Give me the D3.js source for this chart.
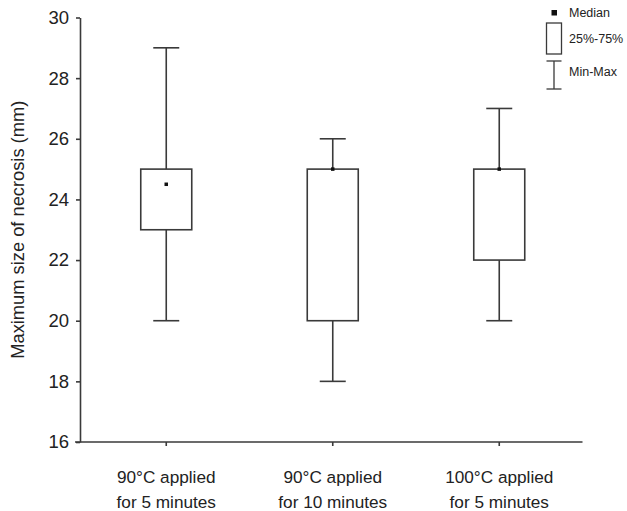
<!DOCTYPE html>
<html>
<head>
<meta charset="utf-8">
<script src="https://cdn.jsdelivr.net/npm/d3@7"></script>
<style>
  body { margin: 0; background: #fff; }
  svg { font-family: "Liberation Sans", Arial, sans-serif; }
  .axis path, .axis line { stroke: #3a3a3a; stroke-width: 1.6; }
  .axis text { fill: #222; }
  .box { fill: #fff; stroke: #3a3a3a; stroke-width: 1.6; }
  .whisker { stroke: #3a3a3a; stroke-width: 1.6; }
</style>
</head>
<body>
<script>
"use strict";

var width = 627;
var height = 511;

var categories = [
  ["90°C applied", "for 5 minutes"],
  ["90°C applied", "for 10 minutes"],
  ["100°C applied", "for 5 minutes"]
];
var mins = [20, 18, 20];
var q1s = [23, 20, 22];
var medians = [24.5, 25, 25];
var q3s = [25, 25, 25];
var maxs = [29, 26, 27];
var yTicks = [16, 18, 20, 22, 24, 26, 28, 30];
var legendLabels = ["Median", "25%-75%", "Min-Max"];

var boxes = [];
for (var i = 0; i < categories.length; i++) {
  boxes.push({
    id: i,
    label: categories[i],
    min: mins[i],
    q1: q1s[i],
    median: medians[i],
    q3: q3s[i],
    max: maxs[i]
  });
}

var svg = d3.select("body")
  .append("svg")
  .attr("width", width)
  .attr("height", height);

var x = d3.scaleBand()
  .domain(boxes.map(function(d) { return d.id; }))
  .range([83, 582.5])
  .padding(0);

var y = d3.scaleLinear()
  .domain([16, 30])
  .range([442, 17.5]);

var boxW = 51;
var capW = 26;

// y axis
var yAxis = svg.append("g")
  .attr("class", "axis")
  .attr("transform", "translate(80,0)")
  .call(d3.axisLeft(y).tickValues(yTicks).tickSize(4).tickSizeOuter(0).tickPadding(7));
yAxis.selectAll("text").style("font-size", "18.5px");

// x axis
var xAxis = svg.append("g")
  .attr("class", "axis")
  .attr("transform", "translate(0," + y(16) + ")")
  .call(d3.axisBottom(x).tickSize(4).tickSizeOuter(0).tickFormat(""));
xAxis.select(".domain").attr("d", "M75,0H" + x.range()[1]);

xAxis.selectAll(".tick")
  .append("text")
  .attr("fill", "#222")
  .style("font-size", "17.2px")
  .attr("text-anchor", "middle")
  .selectAll("tspan")
  .data(function(d) { return boxes[d].label; })
  .enter()
  .append("tspan")
  .attr("x", 0)
  .attr("y", function(d, j) { return 41 + j * 24.5; })
  .text(function(d) { return d; });

// y title
svg.append("text")
  .attr("transform", "translate(24," + ((y(16) + y(30)) / 2) + ") rotate(-90)")
  .attr("text-anchor", "middle")
  .attr("fill", "#222")
  .style("font-size", "18.3px")
  .text("Maximum size of necrosis (mm)");

// boxes
var g = svg.selectAll(".bx")
  .data(boxes)
  .enter()
  .append("g")
  .attr("class", "bx")
  .attr("transform", function(d) { return "translate(" + (x(d.id) + x.bandwidth() / 2) + ",0)"; });

g.append("line").attr("class", "whisker")
  .attr("x1", 0).attr("x2", 0)
  .attr("y1", function(d) { return y(d.max); })
  .attr("y2", function(d) { return y(d.q3); });
g.append("line").attr("class", "whisker")
  .attr("x1", 0).attr("x2", 0)
  .attr("y1", function(d) { return y(d.q1); })
  .attr("y2", function(d) { return y(d.min); });
g.append("line").attr("class", "whisker")
  .attr("x1", -capW / 2).attr("x2", capW / 2)
  .attr("y1", function(d) { return y(d.max); })
  .attr("y2", function(d) { return y(d.max); });
g.append("line").attr("class", "whisker")
  .attr("x1", -capW / 2).attr("x2", capW / 2)
  .attr("y1", function(d) { return y(d.min); })
  .attr("y2", function(d) { return y(d.min); });
g.append("rect").attr("class", "box")
  .attr("x", -boxW / 2)
  .attr("width", boxW)
  .attr("y", function(d) { return y(d.q3); })
  .attr("height", function(d) { return y(d.q1) - y(d.q3); });
g.append("rect")
  .attr("x", -1.75).attr("width", 3.5)
  .attr("y", function(d) { return y(d.median) - 1.75; })
  .attr("height", 3.5)
  .attr("fill", "#111");

// legend
var lg = svg.append("g").attr("transform", "translate(554,0)");
lg.append("rect").attr("x", -2.5).attr("y", 10).attr("width", 5.5).attr("height", 5.5).attr("fill", "#111");
lg.append("rect").attr("class", "box").attr("x", -7.5).attr("y", 23).attr("width", 15).attr("height", 31).style("stroke-width", 1.3);
lg.append("line").attr("class", "whisker").attr("x1", 0).attr("x2", 0).attr("y1", 61).attr("y2", 89).style("stroke-width", 1.3);
lg.append("line").attr("class", "whisker").attr("x1", -7.5).attr("x2", 7.5).attr("y1", 61).attr("y2", 61).style("stroke-width", 1.3);
lg.append("line").attr("class", "whisker").attr("x1", -7.5).attr("x2", 7.5).attr("y1", 89).attr("y2", 89).style("stroke-width", 1.3);
lg.selectAll(".lt")
  .data(legendLabels)
  .enter()
  .append("text")
  .attr("x", 15)
  .attr("y", function(d, j) { return [17, 43, 76][j]; })
  .attr("fill", "#222")
  .style("font-size", "12.5px")
  .text(function(d) { return d; });
</script>
</body>
</html>
